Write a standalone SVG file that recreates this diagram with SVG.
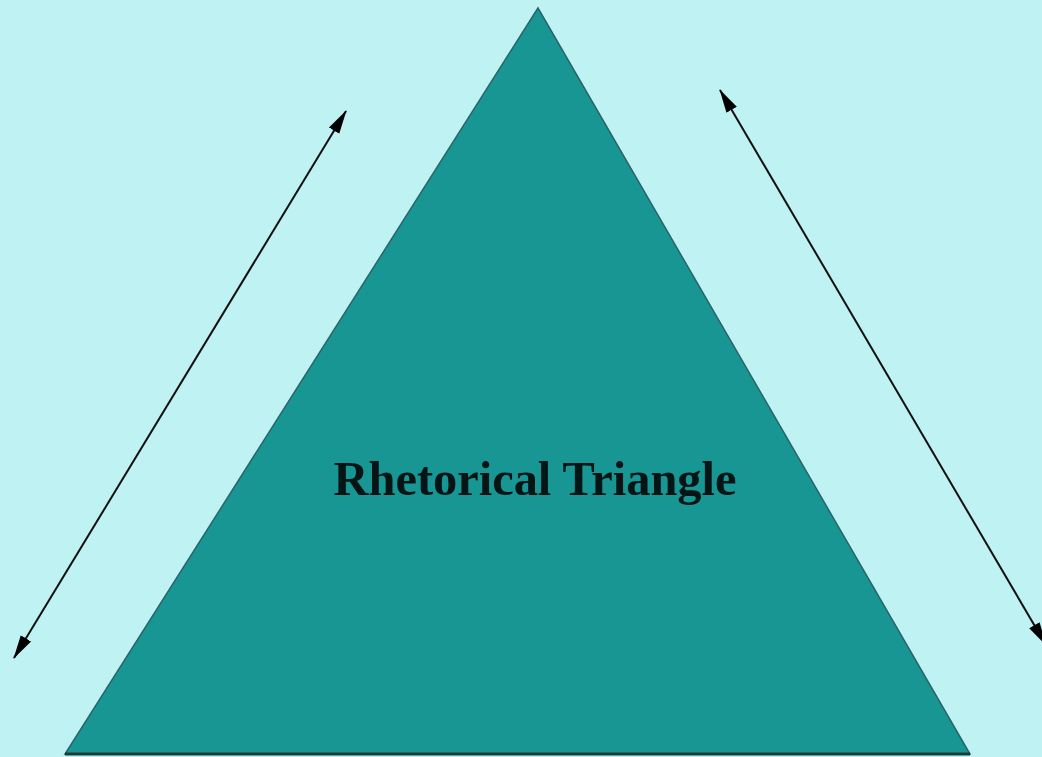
<svg xmlns="http://www.w3.org/2000/svg" width="1042" height="757" viewBox="0 0 1042 757">
<style>
.tri{fill:#189694;stroke:#2b6466;stroke-width:1.5}
.conn{stroke:#111;stroke-width:2;fill:none;marker-start:url(#ah);marker-end:url(#ah)}
.lbl{font-family:"Liberation Serif","DejaVu Serif",serif;font-size:48px;fill:#051515;font-weight:bold}
</style>
<defs>
<marker id="ah" viewBox="0 0 10 10" refX="9" refY="5" markerWidth="10" markerHeight="8" markerUnits="userSpaceOnUse" orient="auto-start-reverse">
<path d="M0,0 L10,5 L0,10 z" fill="#000"/>
</marker>
<marker id="ahb" viewBox="0 0 24 14" refX="23" refY="7" markerWidth="24" markerHeight="14" markerUnits="userSpaceOnUse" orient="auto-start-reverse">
<path d="M0,1 L24,7 L0,13 z" fill="#000"/>
</marker>
</defs>
<rect width="1042" height="757" fill="#bff2f2"/>
<g id="triangle">
<polygon class="tri" points="538,8 65,754 970,754"/>
<line x1="65" y1="754" x2="970" y2="754" stroke="#1f3a3a" stroke-width="3"/>
<text class="lbl" x="535" y="495" text-anchor="middle" textLength="403" lengthAdjust="spacingAndGlyphs">Rhetorical Triangle</text>
</g>
<g id="connectors">
<line x1="14" y1="658" x2="346" y2="111" stroke="#111" stroke-width="2" marker-start="url(#ahb)" marker-end="url(#ahb)"/>
<line x1="720" y1="90" x2="1046" y2="645" stroke="#111" stroke-width="2" marker-start="url(#ahb)" marker-end="url(#ahb)"/>
</g>
</svg>
